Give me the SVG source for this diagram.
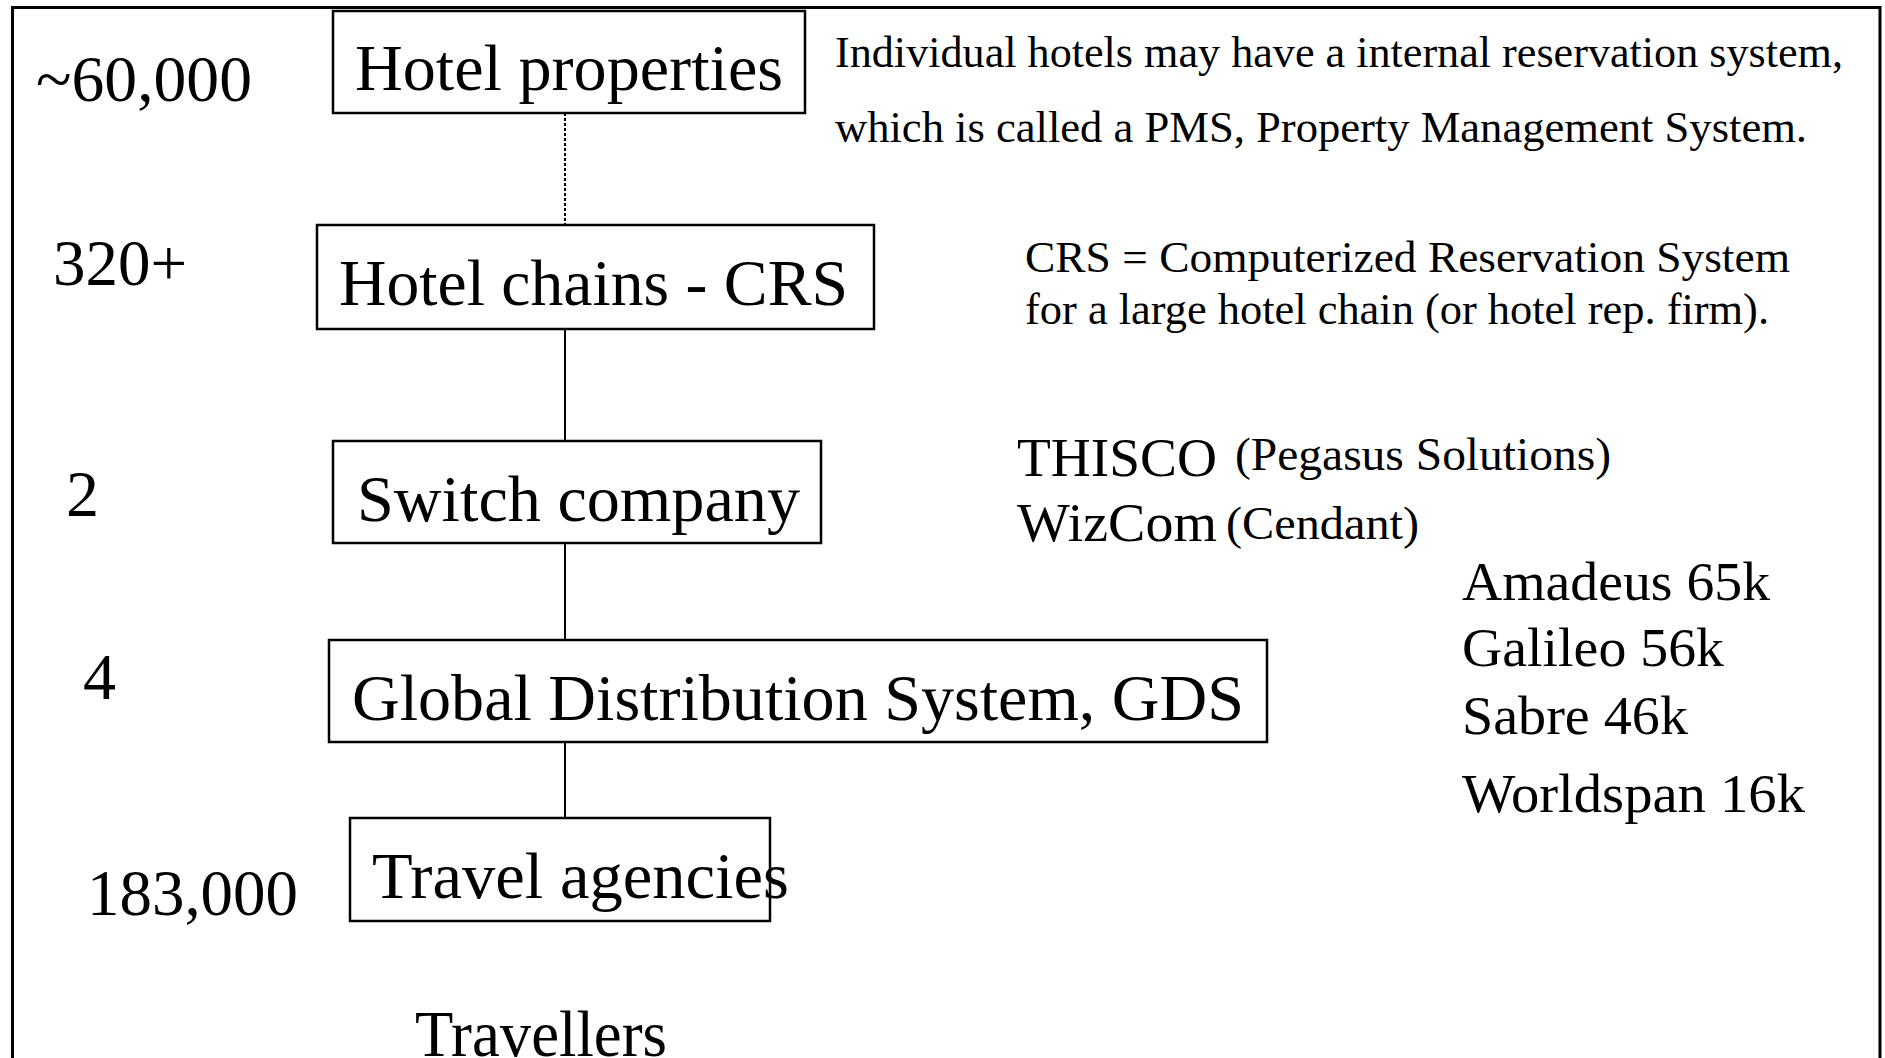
<svg xmlns="http://www.w3.org/2000/svg" width="1885" height="1058" viewBox="0 0 1885 1058">
<style>
text{font-family:"Liberation Serif","Times New Roman",serif;fill:#000}
.big{font-size:66px}
.note{font-size:44px}
.mid{font-size:55px}
.sm{font-size:47px}
.box{fill:#fff;stroke:#000;stroke-width:2.5}
.conn{stroke:#000;stroke-width:2;fill:none}
.dot{stroke:#000;stroke-width:2;fill:none;stroke-dasharray:3 2}
</style>
<rect x="0" y="0" width="1885" height="1058" fill="#fff"/>
<path d="M12.5 1060 V7.5 H1880 V1060" fill="none" stroke="#000" stroke-width="3"/>
<g id="connectors">
<line class="dot" x1="565" y1="113" x2="565" y2="225"/>
<line class="conn" x1="565" y1="329" x2="565" y2="441"/>
<line class="conn" x1="565" y1="540" x2="565" y2="639"/>
<line class="conn" x1="565" y1="738" x2="565" y2="817"/>
</g>
<g id="hotel-properties">
<rect class="box" x="333" y="11" width="472" height="102"/>
<text class="big" x="355" y="90" textLength="428" lengthAdjust="spacingAndGlyphs">Hotel properties</text>
</g>
<g id="hotel-chains">
<rect class="box" x="317" y="225" width="557" height="104"/>
<text class="big" x="339" y="305" textLength="509" lengthAdjust="spacingAndGlyphs">Hotel chains - CRS</text>
</g>
<g id="switch-company">
<rect class="box" x="333" y="441" width="488" height="102"/>
<text class="big" x="357" y="521" textLength="443" lengthAdjust="spacingAndGlyphs">Switch company</text>
</g>
<g id="gds">
<rect class="box" x="329" y="640" width="938" height="102"/>
<text class="big" x="352" y="720" textLength="892" lengthAdjust="spacingAndGlyphs">Global Distribution System, GDS</text>
</g>
<g id="travel-agencies">
<rect class="box" x="350" y="818" width="420" height="103"/>
<text class="big" x="372" y="898" textLength="417" lengthAdjust="spacingAndGlyphs">Travel agencies</text>
</g>
<g id="travellers">
<text class="big" x="415" y="1056" textLength="252" lengthAdjust="spacingAndGlyphs">Travellers</text>
</g>
<g id="counts">
<text class="big" x="36" y="101" textLength="216" lengthAdjust="spacingAndGlyphs">~60,000</text>
<text class="big" x="53" y="285" textLength="134" lengthAdjust="spacingAndGlyphs">320+</text>
<text class="big" x="66" y="516">2</text>
<text class="big" x="83" y="699">4</text>
<text class="big" x="87" y="915" textLength="211" lengthAdjust="spacingAndGlyphs">183,000</text>
</g>
<g id="notes">
<text class="note" x="835" y="67" textLength="1008" lengthAdjust="spacingAndGlyphs">Individual hotels may have a internal reservation system,</text>
<text class="note" x="835" y="142" textLength="972" lengthAdjust="spacingAndGlyphs">which is called a PMS, Property Management System.</text>
<text class="note" x="1025" y="272" textLength="765" lengthAdjust="spacingAndGlyphs">CRS = Computerized Reservation System</text>
<text class="note" x="1025" y="324" textLength="744" lengthAdjust="spacingAndGlyphs">for a large hotel chain (or hotel rep. firm).</text>
<text class="mid" x="1017" y="476" textLength="200" lengthAdjust="spacingAndGlyphs">THISCO</text>
<text class="sm" x="1235" y="470" textLength="376" lengthAdjust="spacingAndGlyphs">(Pegasus Solutions)</text>
<text class="mid" x="1017" y="541" textLength="200" lengthAdjust="spacingAndGlyphs">WizCom</text>
<text class="sm" x="1226" y="539" textLength="193" lengthAdjust="spacingAndGlyphs">(Cendant)</text>
<text class="mid" x="1462" y="600" textLength="308" lengthAdjust="spacingAndGlyphs">Amadeus 65k</text>
<text class="mid" x="1462" y="666" textLength="262" lengthAdjust="spacingAndGlyphs">Galileo 56k</text>
<text class="mid" x="1462" y="734" textLength="226" lengthAdjust="spacingAndGlyphs">Sabre 46k</text>
<text class="mid" x="1462" y="812" textLength="343" lengthAdjust="spacingAndGlyphs">Worldspan 16k</text>
</g>
</svg>
